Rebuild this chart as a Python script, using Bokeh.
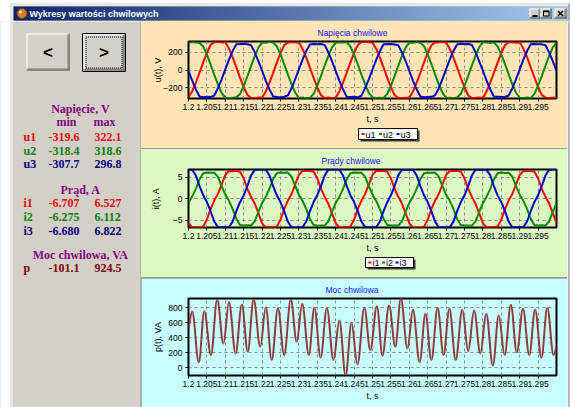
import numpy as np
from bokeh.plotting import figure
from bokeh.layouts import column, row
from bokeh.models import Range1d, FixedTicker, CustomJSTickFormatter
from bokeh.core.properties import value
from bokeh.embed import file_html
from bokeh.resources import INLINE

SANS = "Liberation Sans"
SERIF = "Liberation Serif"
FACE = "#d4d0c8"

# ---------------------------------------------------------------- data
t_start, t_end = 1.2, 1.3
time_ticks = [1.2, 1.205, 1.21, 1.215, 1.22, 1.225, 1.23, 1.235, 1.24, 1.245,
              1.25, 1.255, 1.26, 1.265, 1.27, 1.275, 1.28, 1.285, 1.29, 1.295]
u_ticks = [-200, 0, 200]
i_ticks = [-5, 0, 5]
p_ticks = [0, 200, 400, 600, 800]

# phase voltages [V], one sample per millisecond
sample_ms = np.arange(101)
u1 = [-306, -238, -140, -27, 88, 195, 283, 314, 318, 311, 316, 242, 144, 30, -84, -191, -279, -311, -319.6, -308,
      -310, -241, -143, -31, 85, 192, 280, 309, 315, 313, 307, 239, 141, 28, -87, -194, -282, -314, -309, -316,
      -312, -237, -139, -28, 87, 194, 282, 316, 322.1, 314, 310, 241, 143, 31, -85, -192, -280, -313, -317, -310,
      -309, -240, -142, -30, 86, 193, 279, 311, 313, 319, 312, 238, 140, 27, -86, -193, -283, -316, -312, -307,
      -313, -239, -141, -29, 84, 191, 281, 313, 317, 308, 314, 243, 145, 32, -83, -190, -278, -310, -315, -311,
      -308]
u2 = [309, 316, 311, 305, 266, 174, 65, -51, -162, -257, -310, -316, -311, -306, -270, -178, -69, 47, 158, 253,
      313, 308, 318.6, 310, 269, 177, 68, -48, -159, -254, -313, -309, -318.4, -312, -267, -175, -66, 50, 161, 256,
      307, 314, 312, 316, 267, 175, 66, -50, -161, -256, -308, -315, -310, -314, -269, -177, -68, 48, 159, 254,
      311, 309, 315, 308, 270, 178, 69, -47, -158, -253, -314, -311, -316, -309, -266, -174, -65, 51, 162, 257,
      315, 310, 306, 313, 268, 176, 67, -49, -160, -255, -311, -313, -308, -315, -268, -176, -67, 49, 160, 255,
      310]
u3 = [-9, -119, -218, -298, -305, -301, -304, -286, -204, -103, 8, 117, 214, 290, 293, 296.8, 291, 280, 200, 101,
      -8, -120, -217, -297, -302, -307.7, -300, -285, -205, -102, 9, 118, 215, 289, 295, 290, 294, 281, 201, 100,
      -10, -118, -219, -299, -303, -299, -306, -287, -203, -104, 7, 116, 213, 291, 292, 294, 289, 279, 199, 102,
      -9, -121, -216, -296, -306, -302, -301, -284, -206, -101, 10, 119, 216, 288, 296, 291, 293, 282, 202, 99,
      -7, -119, -218, -298, -300, -304, -303, -286, -204, -103, 8, 117, 214, 290, 294, 292, 290, 280, 200, 101,
      -9]

# phase currents [A], one sample per millisecond
i1 = [-5.68, -6.65, -6.62, -6.68, -6.47, -4.85, -2.43, -0.42, 1.14, 3.28, 5.55, 6.49, 6.44, 6.51, 6.30, 4.79, 2.31, 0.47, -1.11, -3.36,
      -5.74, -6.707, -6.60, -6.66, -6.51, -4.90, -2.38, -0.47, 1.09, 3.33, 5.60, 6.527, 6.46, 6.48, 6.35, 4.74, 2.36, 0.42, -1.16, -3.41,
      -5.70, -6.68, -6.66, -6.63, -6.46, -4.86, -2.41, -0.44, 1.12, 3.30, 5.56, 6.50, 6.49, 6.52, 6.31, 4.77, 2.33, 0.45, -1.13, -3.38,
      -5.72, -6.69, -6.62, -6.70, -6.50, -4.89, -2.39, -0.46, 1.10, 3.32, 5.58, 6.51, 6.45, 6.50, 6.34, 4.75, 2.35, 0.43, -1.15, -3.40,
      -5.69, -6.66, -6.65, -6.67, -6.48, -4.87, -2.42, -0.43, 1.13, 3.29, 5.54, 6.48, 6.47, 6.51, 6.32, 4.78, 2.32, 0.46, -1.12, -3.37,
      -5.71]
i2 = [-0.97, 0.51, 2.29, 4.55, 5.94, 6.09, 6.04, 6.08, 5.11, 2.96, 0.98, -0.48, -2.35, -4.67, -6.10, -6.25, -6.21, -6.24, -5.25, -3.04,
      -1.01, 0.47, 2.33, 4.59, 5.98, 6.112, 6.07, 6.10, 5.15, 3.00, 0.94, -0.52, -2.39, -4.71, -6.14, -6.275, -6.24, -6.26, -5.29, -3.08,
      -0.99, 0.49, 2.31, 4.57, 5.95, 6.10, 6.05, 6.09, 5.12, 2.97, 0.96, -0.50, -2.37, -4.68, -6.11, -6.26, -6.22, -6.25, -5.26, -3.05,
      -0.98, 0.50, 2.30, 4.56, 5.97, 6.08, 6.06, 6.11, 5.14, 2.99, 0.97, -0.49, -2.36, -4.70, -6.13, -6.24, -6.23, -6.27, -5.28, -3.07,
      -1.00, 0.48, 2.32, 4.58, 5.96, 6.10, 6.03, 6.07, 5.13, 2.98, 0.95, -0.51, -2.38, -4.69, -6.12, -6.26, -6.20, -6.25, -5.27, -3.06,
      -0.99]
i3 = [6.79, 6.75, 5.42, 2.93, 0.83, -0.77, -2.91, -5.31, -6.61, -6.66, -6.65, -6.60, -5.35, -2.87, -0.81, 0.79, 2.97, 5.46, 6.74, 6.80,
      6.822, 6.78, 5.45, 2.96, 0.80, -0.80, -2.88, -5.34, -6.64, -6.680, -6.67, -6.62, -5.32, -2.90, -0.78, 0.82, 2.94, 5.43, 6.76, 6.81,
      6.80, 6.76, 5.43, 2.94, 0.82, -0.78, -2.90, -5.32, -6.62, -6.67, -6.66, -6.64, -5.34, -2.88, -0.80, 0.80, 2.96, 5.45, 6.78, 6.79,
      6.81, 6.77, 5.44, 2.95, 0.81, -0.79, -2.89, -5.33, -6.63, -6.65, -6.67, -6.61, -5.33, -2.89, -0.79, 0.81, 2.95, 5.44, 6.75, 6.80,
      6.78, 6.74, 5.46, 2.97, 0.79, -0.81, -2.87, -5.35, -6.60, -6.66, -6.64, -6.63, -5.31, -2.91, -0.77, 0.83, 2.93, 5.42, 6.77, 6.81,
      6.80]

# instantaneous power [VA]: turning points (ms after 1.200 s)
p_ms = [0.0, 1.0, 2.8, 4.3, 6.1, 7.8, 9.5, 11.0, 12.8, 14.5, 16.1, 17.7, 19.5, 21.0, 22.6, 24.3, 26.0, 27.8, 29.4, 30.9,
        32.7, 34.2, 35.9, 37.6, 39.4, 41.0, 42.7, 44.3, 45.9, 47.8, 49.4, 51.2, 52.7, 54.5, 56.2, 57.7, 59.5, 61.0, 62.8, 64.4,
        66.0, 67.7, 69.3, 70.9, 72.6, 74.4, 76.0, 77.6, 79.3, 80.9, 82.7, 84.3, 85.9, 87.6, 89.2, 90.9, 92.6, 94.2, 95.9, 97.5,
        99.2, 100.0]
p_va = [520, 752, 75, 756, 171, 910, 325, 875, 193, 844, 215, 915, 281, 809, 105, 796, 171, 912, 347, 853,
        171, 800, 136, 796, 105, 633, -101.1, 598, 45, 800, 237, 822, 163, 831, 281, 924.5, 259, 774, 75, 721,
        105, 800, 171, 787, 105, 774, 224, 765, 193, 721, 31, 699, 171, 840, 207, 787, 171, 774, 136, 800,
        171, 281]

t = t_start + sample_ms / 1000.0
p_t = t_start + np.array(p_ms) / 1000.0

RED, GREEN, BLUE, BROWN = "#ff0000", "#008a00", "#0000cc", "#8e3b3b"
BG_U, BG_I, BG_P = "#ffe4b5", "#dcf9c4", "#c8ffff"

# chart geometry shared by the plots and the key strips under them
CHART_W, BORDER_L, BORDER_R = 426, 47, 11
FRAME_W = CHART_W - BORDER_L - BORDER_R


# ---------------------------------------------------------------- helpers
def bare(width, height, x0, x1, y_top, y_bottom, bg):
    """Figure whose data units are screen pixels (y grows downward)."""
    f = figure(width=width, height=height, output_backend="svg", toolbar_location=None,
               x_range=Range1d(x0, x1), y_range=Range1d(y_bottom, y_top),
               x_axis_location=None, y_axis_location=None, min_border=0,
               background_fill_color=bg, border_fill_color=bg, outline_line_color=None)
    f.grid.visible = False
    return f


def bevel(f, l, r, t, b, default=False):
    if default:
        f.quad(left=[l], right=[r], top=[t], bottom=[b], fill_color=FACE,
               line_color="black", line_width=1)
        l, r, t, b = l + 1, r - 1, t + 1, b - 1
    else:
        f.quad(left=[l], right=[r], top=[t], bottom=[b], fill_color=FACE, line_color=None)
    f.segment(x0=[l, l + .5], y0=[t + .5, t], x1=[r, l + .5], y1=[t + .5, b],
              line_color="white", line_width=1)
    f.segment(x0=[l, r - .5], y0=[b - .5, t], x1=[r, r - .5], y1=[b - .5, b],
              line_color="#404040", line_width=1)
    f.segment(x0=[l + 1, r - 1.5], y0=[b - 1.5, t + 1], x1=[r - 1, r - 1.5], y1=[b - 1.5, b - 1],
              line_color="#808080", line_width=1)


def make_chart(title, title_offset, ylabel, ylabel_standoff, height, bottom, bg, yticks, ymin, ymax):
    p = figure(width=CHART_W, height=height, output_backend="svg", toolbar_location=None,
               x_range=Range1d(t_start, t_end), y_range=Range1d(ymin, ymax),
               min_border_left=BORDER_L, min_border_right=BORDER_R, min_border_top=20,
               min_border_bottom=bottom, background_fill_color=bg, border_fill_color=bg,
               outline_line_color="black", outline_line_width=2)
    p.title.text = title
    p.title.align = "left"
    p.title.offset = title_offset
    p.title.standoff = 8
    p.title.text_font = SANS
    p.title.text_font_size = "8.5px"
    p.title.text_font_style = "normal"
    p.title.text_color = "#1515ff"
    for ax in (p.xaxis[0], p.yaxis[0]):
        ax.axis_line_color = None
        ax.major_tick_out = 3
        ax.major_tick_in = 0
        ax.major_tick_line_color = "black"
        ax.minor_tick_line_color = None
        ax.major_label_text_font = SANS
        ax.major_label_text_font_size = "8.5px"
        ax.major_label_text_color = "black"
        ax.axis_label_text_font = SANS
        ax.axis_label_text_font_size = "9px"
        ax.axis_label_text_font_style = "normal"
        ax.axis_label_text_color = "black"
    p.xaxis.ticker = FixedTicker(ticks=time_ticks)
    p.xaxis.formatter = CustomJSTickFormatter(code="return String(tick)")
    p.xaxis.axis_label = "t, s"
    p.xaxis.major_label_standoff = 2
    p.xaxis.axis_label_standoff = 1
    p.yaxis.ticker = FixedTicker(ticks=yticks)
    p.yaxis.axis_label = ylabel
    p.yaxis.major_label_standoff = 3
    p.yaxis.axis_label_standoff = ylabel_standoff
    p.grid.grid_line_color = "#8a8a8a"
    p.grid.grid_line_dash = "3 3"
    p.grid.grid_line_width = 1
    return p


def key_strip(chart, names, colors, bg, y_top, box, step, height=22):
    """Strip under a chart, sharing its time axis, with a boxed, shadowed series key.
    box / step are pixel offsets from the left edge of the chart's plotting frame."""
    s = figure(width=CHART_W, height=height, output_backend="svg", toolbar_location=None,
               x_range=chart.x_range, y_range=Range1d(y_top + height, y_top),
               x_axis_location=None, y_axis_location=None,
               min_border_left=BORDER_L, min_border_right=BORDER_R,
               min_border_top=0, min_border_bottom=0,
               background_fill_color=bg, border_fill_color=bg, outline_line_color=None)
    s.grid.visible = False
    per_px = (t_end - t_start) / FRAME_W

    def tx(px):
        return t_start + px * per_px

    l, r, t, b = box
    s.quad(left=[tx(l + 2)], right=[tx(r + 2)], top=[t + 2], bottom=[b + 2],
           fill_color="#3a3a3a", line_color=None)
    s.quad(left=[tx(l)], right=[tx(r)], top=[t], bottom=[b], fill_color="white",
           line_color="black", line_width=1)
    xs = [l + 3 + i * step for i in range(len(names))]
    ym = (t + b) / 2
    s.segment(x0=[tx(x) for x in xs], y0=[ym] * len(xs), x1=[tx(x + 3) for x in xs],
              y1=[ym] * len(xs), line_color=colors, line_width=2)
    s.text(x=[tx(x + 4) for x in xs], y=[ym + 0.5] * len(xs), text=names, text_color="black",
           text_font=value(SANS), text_font_size="9px", text_baseline="middle")
    return s


def smooth_through(p, xs, ys, **line_kw):
    """Join successive turning points with cubic Bezier arcs (flat at extrema)."""
    xs, ys = np.asarray(xs, float), np.asarray(ys, float)
    n = len(xs)
    x0, x1, y0, y1 = xs[:-1], xs[1:], ys[:-1], ys[1:]
    dx = x1 - x0
    k = 0.36
    is_ext = np.zeros(n, bool)
    is_ext[1:-1] = (ys[1:-1] - ys[:-2]) * (ys[2:] - ys[1:-1]) < 0
    cy0 = np.where(is_ext[:-1], y0, y0 + (y1 - y0) * k)
    cy1 = np.where(is_ext[1:], y1, y1 - (y1 - y0) * k)
    p.bezier(x0=x0, y0=y0, x1=x1, y1=y1, cx0=x0 + k * dx, cy0=cy0, cx1=x1 - k * dx, cy1=cy1,
             **line_kw)


# ---------------------------------------------------------------- charts
all_u = u1 + u2 + u3
pu = make_chart("Napięcia chwilowe", 129, "u(t), V", -3, 105, 28, BG_U,
                u_ticks, min(all_u), max(all_u))
for s, c in ((u1, RED), (u2, GREEN), (u3, BLUE)):
    pu.line(t, s, line_color=c, line_width=2)
key_u = key_strip(pu, ["u1", "u2", "u3"], [RED, GREEN, BLUE], BG_U, 126, (170, 229, 128, 139), 17.5)

all_i = i1 + i2 + i3
pi = make_chart("Prądy chwilowe", 133, "i(t), A", 9, 106, 28, BG_I,
                i_ticks, min(all_i), max(all_i))
for s, c in ((i1, RED), (i2, GREEN), (i3, BLUE)):
    pi.line(t, s, line_color=c, line_width=2)
key_i = key_strip(pi, ["i1", "i2", "i3"], [RED, GREEN, BLUE], BG_I, 255, (177, 225, 257, 267), 13.5)

pp = make_chart("Moc chwilowa", 137, "p(t), VA", 2, 129, 32, BG_P,
                p_ticks, min(p_va), max(p_va))
smooth_through(pp, p_t, p_va, line_color=BROWN, line_width=2)

charts = column(column(pu, key_u, styles={"background-color": BG_U}),
                column(pi, key_i, styles={"background-color": BG_I}),
                pp, spacing=1, styles={"background-color": "#9a9a9a"})

# ---------------------------------------------------------------- title bar
tb = bare(572, 21, 0, 572, 0, 21, "white")
tb.quad(left=[10], right=[569], top=[3], bottom=[21], fill_color=FACE, line_color=None)
tb.segment(x0=[11, 11.5], y0=[4.5, 4], x1=[568, 11.5], y1=[4.5, 21], line_color="white")
tb.segment(x0=[568.5], y0=[3], x1=[568.5], y1=[21], line_color="#808080")
n_strips = 277
edges = np.linspace(13, 567, n_strips + 1)
c0, c1 = np.array([10, 36, 106]), np.array([166, 202, 240])
strip_cols = ["#%02x%02x%02x" % tuple((c0 + (c1 - c0) * f).astype(int))
              for f in np.linspace(0, 1, n_strips)]
tb.quad(left=edges[:-1], right=edges[1:] + 0.6, top=6, bottom=20,
        fill_color=strip_cols, line_color=None)
tb.scatter([21.5], [13], marker="circle", size=10, fill_color="#d27c2c", line_color="#7a3a12")
tb.scatter([20], [11.5], marker="circle", size=3, fill_color="#ffe0a0", line_color=None)
tb.text(x=[29], y=[13.5], text=["Wykresy wartości chwilowych"], text_color="white",
        text_font=value(SANS), text_font_style="bold", text_font_size="9px",
        text_baseline="middle")
bevel(tb, 529, 540, 8, 18)
bevel(tb, 540, 551, 8, 18)
bevel(tb, 554, 566, 8, 18)
tb.segment(x0=[532], y0=[15.5], x1=[537], y1=[15.5], line_color="black", line_width=2)
tb.quad(left=[543], right=[548.5], top=[10.5], bottom=[15.5], fill_color=None,
        line_color="black", line_width=1)
tb.segment(x0=[543], y0=[11], x1=[548.5], y1=[11], line_color="black", line_width=1.5)
tb.segment(x0=[557.5, 557.5], y0=[10.5, 15.5], x1=[562.5, 562.5], y1=[15.5, 10.5],
           line_color="black", line_width=1.6)

# ---------------------------------------------------------------- left panel
lp = bare(141, 386, 0, 141, 21, 407, FACE)
lp.quad(left=[0], right=[10], top=[21], bottom=[407], fill_color="white", line_color=None)
lp.segment(x0=[11.5], y0=[21], x1=[11.5], y1=[407], line_color="white")
lp.segment(x0=[140.5], y0=[21], x1=[140.5], y1=[407], line_color="#8f8f8f")

bevel(lp, 26, 69, 33, 70)
bevel(lp, 82, 125, 33, 71, default=True)
lp.quad(left=[85.5], right=[121.5], top=[36.5], bottom=[67.5], fill_color=None,
        line_color="black", line_width=1, line_dash="1 1")
lp.text(x=[47.5, 103.5], y=[52, 52], text=["<", ">"], text_color="black",
        text_font=value(SANS), text_font_style="bold", text_font_size="17px",
        text_align="center", text_baseline="middle")

PURPLE = "#800080"
groups = [
    ("Napięcie, V", 108, 1, [("u1", u1, RED, 136), ("u2", u2, "#008000", 150), ("u3", u3, "#000080", 163.5)]),
    ("Prąd, A", 189.5, 3, [("i1", i1, RED, 202), ("i2", i2, "#008000", 216), ("i3", i3, "#000080", 230)]),
    ("Moc chwilowa, VA", 254.5, 1, [("p", p_va, "#800000", 267.5)]),
]
font = dict(text_font=value(SERIF), text_font_style="bold", text_font_size="12px",
            text_baseline="middle")
lp.text(x=[80] * len(groups), y=[g[1] for g in groups], text=[g[0] for g in groups],
        text_color=PURPLE, text_align="center", **font)
lp.text(x=[56, 93], y=[121, 121], text=["min", "max"], text_color=PURPLE, **font)

cx, cy, ct, cc = [], [], [], []
for head, hy, nd, rows in groups:
    for name, series, col, ry in rows:
        for x, s in ((23, name), (48, f"{min(series):.{nd}f}"), (94, f"{max(series):.{nd}f}")):
            cx.append(x); cy.append(ry); ct.append(s); cc.append(col)
lp.text(x=cx, y=cy, text=ct, text_color=cc, **font)

# ---------------------------------------------------------------- right edge
rs = bare(5, 386, 567, 572, 21, 407, "white")
rs.quad(left=[567], right=[568], top=[21], bottom=[407], fill_color=FACE, line_color=None)
rs.quad(left=[568], right=[569], top=[21], bottom=[407], fill_color="#808080", line_color=None)

layout = column(tb, row(lp, charts, rs))
open("out.html", "w").write(file_html(layout, INLINE))
